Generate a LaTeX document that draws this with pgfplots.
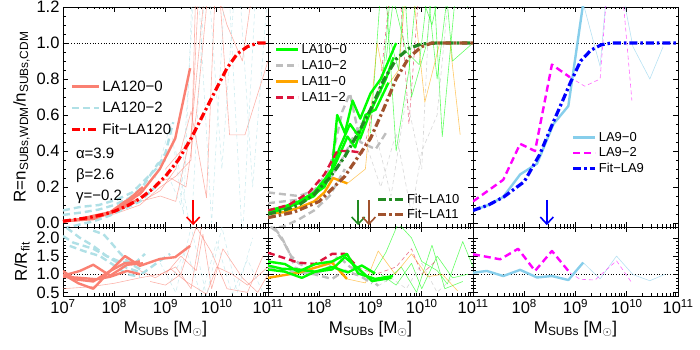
\documentclass[border=0pt]{standalone}
\usepackage{fontspec}
\setmainfont{Liberation Sans}
\usepackage{pgfplots}
\pgfplotsset{compat=1.18}
\usetikzlibrary{arrows.meta}

\definecolor{salmonc}{RGB}{250,128,114}
\definecolor{powderc}{RGB}{176,224,230}
\definecolor{fitred}{RGB}{255,0,0}
\definecolor{limec}{RGB}{0,255,0}
\definecolor{grayc}{RGB}{190,190,190}
\definecolor{orangec}{RGB}{255,165,0}
\definecolor{crimsonc}{RGB}{220,20,60}
\definecolor{forestc}{RGB}{34,139,34}
\definecolor{siennac}{RGB}{160,82,45}
\definecolor{skyc}{RGB}{135,206,235}
\definecolor{magc}{RGB}{255,0,255}
\definecolor{bluec}{RGB}{0,0,255}

\newcommand\tickfont{\fontsize{16.5}{19}\selectfont}

\tikzset{
  thk/.style={line width=2.4pt, line join=round},
  thn/.style={line width=0.6pt, opacity=0.6, line join=round},
  dsh/.style={dash pattern=on 7pt off 4pt},
  tdsh/.style={dash pattern=on 4pt off 3pt},
  fitl/.style={line width=3.2pt, dash pattern=on 8pt off 3pt on 2.5pt off 3pt},
  arr/.style={line width=1.6pt, -{Straight Barb[length=7pt,width=13pt]}}
}

\pgfplotsset{
  base/.style={scale only axis, width=205pt, xmin=7, xmax=11,
    xtick={7,8,9,10,11},
    minor xtick={7.301,7.477,7.602,7.699,7.778,7.845,7.903,7.954,
                 8.301,8.477,8.602,8.699,8.778,8.845,8.903,8.954,
                 9.301,9.477,9.602,9.699,9.778,9.845,9.903,9.954,
                 10.301,10.477,10.602,10.699,10.778,10.845,10.903,10.954},
    major tick length=5pt, minor tick length=2.5pt,
    tick style={black, line width=0.6pt},
    axis line style={black, line width=0.9pt},
    tick label style={font=\tickfont},
    label style={font=\fontsize{17}{20}\selectfont},
    /pgf/number format/assume math mode=true,
    yticklabel style={/pgf/number format/fixed, /pgf/number format/fixed zerofill, /pgf/number format/precision=1},
    legend cell align=left,
  },
  top/.style={base, height=220pt, ymin=-0.022, ymax=1.2,
    ytick={0,0.2,0.4,0.6,0.8,1.0,1.2}, minor y tick num=3, xticklabels={}},
  bot/.style={base, height=69pt, ymin=0.4, ymax=2.3,
    ytick={0.5,1.0,1.5,2.0}, minor y tick num=4,
    xlabel={M\textsubscript{SUBs} [M\textsubscript{$\odot$}]}},
}

\begin{document}
\begin{tikzpicture}
\useasboundingbox (0,0) rectangle (700pt,350pt);

% ================= Panel 1 top =================
\begin{axis}[top, at={(63pt,123pt)}, anchor=south west,
  ylabel={R=n\textsubscript{SUBs,WDM}/n\textsubscript{SUBs,CDM}},
  legend style={draw=none, fill=none, inner sep=0pt, row sep=5.5pt,
    at={(axis description cs:0.034,0.675)}, anchor=north west,
    font=\fontsize{15}{17}\selectfont, nodes={inner sep=2pt}},
  legend image code/.code={\draw[#1] (0pt,0pt) -- (27pt,0pt);}]
\addlegendimage{salmonc, thk}\addlegendentry{LA120−0}
\addlegendimage{powderc, thk, dsh}\addlegendentry{LA120−2}
\addlegendimage{fitred, fitl}\addlegendentry{Fit−LA120}
\addplot[black, dotted, line width=0.7pt, forget plot] coordinates {(7,1)(11,1)};
% thin continuations
\addplot[salmonc, thn, forget plot] coordinates {(8.6,0.13)(8.9,0.18)(9.2,0.30)(9.5,0.62)(9.8,0.14)(10.0,1.5)(10.25,0.49)(10.55,0.49)(11,0.9)};
\addplot[salmonc, thn, forget plot] coordinates {(8.8,0.22)(9.1,0.25)(9.4,0.2)(9.6,0.6)(9.9,1.5)(10.1,1.3)(10.4,1.8)};
\addplot[salmonc, thn, forget plot] coordinates {(9.0,0.3)(9.3,0.4)(9.5,0.45)(9.7,1.6)(10.2,1.1)(10.5,0.9)(10.8,1.5)};
\addplot[salmonc, thn, forget plot] coordinates {(8.5,0.12)(8.9,0.15)(9.2,0.12)(9.5,0.5)(9.8,1.4)};
\addplot[salmonc, thn, forget plot] coordinates {(7.0,0.005)(7.5,0.02)(8.0,0.05)(8.5,0.1)(8.9,0.2)(9.2,0.26)(9.5,0.35)(9.6,1.4)};
\addplot[powderc, thn, tdsh, forget plot] coordinates {(9.0,0.3)(9.3,0.1)(9.6,1.5)(9.9,0.0)(10.2,1.5)(10.5,-0.1)(10.8,1.5)};
\addplot[powderc, thn, tdsh, forget plot] coordinates {(9.2,0.4)(9.5,-0.05)(9.8,1.5)(10.1,0.3)(10.4,1.5)(10.7,0.2)(11,1.3)};
\addplot[powderc, thn, tdsh, forget plot] coordinates {(8.8,0.25)(9.1,0.55)(9.35,0.05)(9.55,1.5)};
% thick
\addplot[powderc, thk, dsh, forget plot] coordinates {(7.0,0.07)(7.35,0.09)(7.7,0.1)(8.05,0.13)(8.35,0.17)(8.6,0.24)(8.85,0.31)(9.0,0.39)(9.15,0.56)};
\addplot[powderc, thk, dsh, forget plot] coordinates {(7.0,0.045)(7.4,0.06)(7.7,0.075)(8.0,0.1)(8.3,0.14)(8.55,0.2)(8.85,0.33)(9.0,0.35)};
\addplot[powderc, thk, dsh, forget plot] coordinates {(7.0,-0.03)(7.3,-0.01)(7.6,0.01)(7.9,0.04)(8.2,0.08)(8.5,0.12)(8.8,0.2)};
\addplot[salmonc, thk, forget plot] coordinates {(7.0,0.011)(7.23,0.015)(7.6,0.032)(7.92,0.06)(8.21,0.12)(8.5,0.16)(8.89,0.30)(9.19,0.47)(9.48,0.86)};
\addplot[salmonc, thk, forget plot] coordinates {(7.0,0.01)(7.3,0.016)(7.59,0.022)(7.8,0.045)(8.0,0.068)(8.3,0.135)(8.56,0.2)};
\addplot[salmonc, thk, forget plot] coordinates {(7.0,0.01)(7.33,0.022)(7.59,0.04)(7.92,0.06)(8.25,0.11)(8.56,0.18)};
\addplot[salmonc, thk, forget plot] coordinates {(7.0,0.009)(7.33,0.018)(7.66,0.035)(7.92,0.055)(8.2,0.09)(8.45,0.13)};
\addplot[fitred, fitl, forget plot] coordinates {(7.0,0.01)(7.25,0.02)(7.5,0.03)(7.75,0.045)(8.0,0.065)(8.25,0.095)(8.5,0.135)(8.75,0.19)(9.0,0.26)(9.25,0.35)(9.5,0.47)(9.75,0.61)(10.0,0.75)(10.2,0.86)(10.4,0.94)(10.6,0.98)(10.8,1.0)(11.0,1.0)};
\draw[fitred, arr] (axis cs:9.54,0.128) -- (axis cs:9.54,-0.012);
\node[anchor=north west, align=left, font=\fontsize{15}{21}\selectfont, inner sep=0pt] at (axis cs:7.25,0.417) {α=3.9\\β=2.6\\γ=−0.2};
\end{axis}

% ================= Panel 1 bottom =================
\begin{axis}[bot, at={(63pt,54pt)}, anchor=south west,
  ylabel={R/R\textsubscript{fit}},
  xticklabels={10\textsuperscript{7},10\textsuperscript{8},10\textsuperscript{9},10\textsuperscript{10},10\textsuperscript{11}}]
\addplot[black, dotted, line width=0.7pt] coordinates {(7,1)(11,1)};
\addplot[salmonc, thn] coordinates {(7.0,0.6)(7.5,0.65)(8.0,0.75)(8.5,0.9)(8.9,1.0)(9.2,1.2)(9.5,0.6)(9.7,2.3)};
\addplot[salmonc, thn] coordinates {(8.7,0.8)(9.0,0.7)(9.3,1.0)(9.6,2.3)(9.9,1.6)(10.2,0.6)(10.6,0.5)(10.9,1.5)};
\addplot[salmonc, thn] coordinates {(9.0,1.0)(9.3,1.5)(9.6,1.1)(9.73,2.1)(9.9,0.6)(10.12,1.7)(10.5,0.9)(10.8,0.5)(11,1.0)};
\addplot[salmonc, thn] coordinates {(8.5,1.1)(8.8,0.9)(9.1,1.15)(9.4,0.8)(9.8,0.45)(10.0,1.2)(10.3,1.0)(10.6,0.7)(11,1.2)};
\addplot[powderc, thn, tdsh] coordinates {(8.9,1.3)(9.2,0.5)(9.5,2.3)(9.8,0.4)(10.1,2.3)(10.4,0.5)(10.7,2.0)};
\addplot[powderc, thn, tdsh] coordinates {(9.1,0.8)(9.4,1.7)(9.7,0.4)(10.0,1.9)(10.3,0.45)(10.6,1.4)(10.9,0.5)};
\addplot[powderc, thk, dsh] coordinates {(7.07,2.28)(7.33,2.0)(7.59,1.78)(7.85,1.5)(8.2,1.2)(8.56,1.03)(8.89,1.37)(9.09,1.56)};
\addplot[powderc, thk, dsh] coordinates {(7.0,2.05)(7.2,1.87)(7.59,1.7)(7.85,1.5)(8.1,1.35)(8.4,1.3)(8.6,1.56)};
\addplot[powderc, thk, dsh] coordinates {(7.13,1.78)(7.4,1.64)(7.72,1.5)(7.98,1.26)(8.25,1.0)(8.5,0.93)};
\addplot[powderc, thk, dsh] coordinates {(7.59,2.2)(7.79,2.1)(7.92,1.9)(8.1,1.6)(8.3,1.3)(8.55,1.1)};
\addplot[salmonc, thk] coordinates {(7.0,1.09)(7.23,0.86)(7.59,0.8)(7.92,1.09)(8.21,1.5)(8.5,1.23)(8.89,1.42)(9.19,1.47)(9.48,1.78)};
\addplot[salmonc, thk] coordinates {(7.0,1.0)(7.3,0.75)(7.59,0.6)(7.92,1.09)(8.2,1.3)(8.5,1.35)};
\addplot[salmonc, thk] coordinates {(7.0,0.96)(7.33,1.09)(7.59,1.26)(7.92,0.96)(8.25,1.26)(8.56,1.3)};
\addplot[salmonc, thk] coordinates {(7.0,0.93)(7.33,0.9)(7.66,0.86)(7.92,0.93)(8.25,1.09)(8.5,1.0)};
\end{axis}

% ================= Panel 2 top =================
\begin{axis}[top, at={(268pt,123pt)}, anchor=south west, yticklabels={},
  legend style={draw=none, fill=none, inner sep=0pt, row sep=1.3pt,
    at={(axis description cs:0.034,0.84)}, anchor=north west,
    font=\fontsize{13}{15}\selectfont, nodes={inner sep=2pt}},
  legend image code/.code={\draw[#1] (0pt,0pt) -- (22pt,0pt);}]
\addlegendimage{limec, thk}\addlegendentry{LA10−0}
\addlegendimage{grayc, thk, dsh}\addlegendentry{LA10−2}
\addlegendimage{orangec, thk}\addlegendentry{LA11−0}
\addlegendimage{crimsonc, thk, dsh}\addlegendentry{LA11−2}
\addplot[black, dotted, line width=0.7pt, forget plot] coordinates {(7,1)(11,1)};
% thin
\addplot[limec, thn, forget plot] coordinates {(9.0,0.5)(9.25,1.5)(9.5,0.4)(9.75,0.85)(10.0,1.6)(10.3,0.8)(10.6,1.5)(10.9,1.2)};
\addplot[limec, thn, forget plot] coordinates {(9.2,0.7)(9.4,1.3)(9.7,0.95)(9.95,0.88)(10.2,1.5)(10.4,0.48)(10.7,1.4)};
\addplot[limec, thn, forget plot] coordinates {(9.3,0.9)(9.6,1.6)(9.8,0.7)(10.1,1.0)(10.35,1.7)(10.6,0.9)(11,1.0)};
\addplot[limec, thn, forget plot] coordinates {(9.4,1.0)(9.55,0.85)(9.7,1.5)(10.2,1.1)(10.5,1.5)};
\addplot[grayc, thn, tdsh, forget plot] coordinates {(8.9,0.45)(9.2,0.2)(9.5,0.5)(9.8,0.05)(10.0,0.4)(10.3,0.6)(10.6,1.5)};
\addplot[grayc, thn, tdsh, forget plot] coordinates {(9.1,0.5)(9.4,0.15)(9.7,0.7)(10.0,0.3)(10.2,1.5)};
\addplot[orangec, thn, forget plot] coordinates {(8.55,0.22)(8.9,0.3)(9.13,1.0)(9.3,0.75)(9.55,0.85)(9.75,1.5)(10.06,0.67)(10.35,1.0)(10.55,1.0)(10.75,0.49)};
\addplot[crimsonc, thn, tdsh, forget plot] coordinates {(8.85,0.39)(9.2,0.8)(9.5,1.6)(9.75,0.55)(10.0,1.5)};
% thick
\addplot[grayc, thk, dsh, forget plot] coordinates {(7.0,0.17)(7.3,0.16)(7.6,0.15)(7.9,0.18)(8.2,0.3)(8.45,0.62)(8.6,0.72)(8.8,0.45)(9.1,0.41)(9.3,0.5)};
\addplot[grayc, thk, dsh, forget plot] coordinates {(7.0,0.11)(7.3,0.12)(7.6,0.13)(7.9,0.16)(8.2,0.24)(8.5,0.38)(8.7,0.5)(8.9,0.58)};
\addplot[grayc, thk, dsh, forget plot] coordinates {(7.0,-0.03)(7.3,-0.02)(7.6,0.02)(7.9,0.07)(8.2,0.15)(8.5,0.3)};
\addplot[orangec, thk, forget plot] coordinates {(7.0,0.05)(7.3,0.06)(7.6,0.085)(7.9,0.12)(8.1,0.17)(8.27,0.25)(8.55,0.22)};
\addplot[limec, thk, forget plot] coordinates {(7.0,0.07)(7.3,0.09)(7.6,0.12)(7.9,0.17)(8.1,0.24)(8.25,0.3)(8.35,0.6)(8.5,0.5)(8.65,0.68)(8.8,0.58)(9.0,0.72)(9.2,0.8)(9.5,1.0)};
\addplot[limec, thk, forget plot] coordinates {(7.0,0.05)(7.3,0.08)(7.6,0.11)(7.9,0.15)(8.2,0.26)(8.4,0.42)(8.6,0.55)(8.8,0.47)(9.0,0.62)(9.3,0.8)(9.45,0.92)};
\addplot[limec, thk, forget plot] coordinates {(7.0,0.06)(7.4,0.09)(7.8,0.14)(8.1,0.2)(8.35,0.35)(8.55,0.48)(8.7,0.42)(8.9,0.6)(9.1,0.63)(9.35,0.78)};
\addplot[crimsonc, thk, dsh, forget plot] coordinates {(7.0,0.07)(7.4,0.1)(7.8,0.17)(8.1,0.27)(8.35,0.4)(8.6,0.4)(8.85,0.39)};
\draw[forestc, arr] (axis cs:8.76,0.128) -- (axis cs:8.76,-0.012);
\draw[siennac, arr] (axis cs:8.97,0.128) -- (axis cs:8.97,-0.012);
\end{axis}
% overlay for fits (second legend)
\begin{axis}[top, at={(268pt,123pt)}, anchor=south west, hide axis,
  legend style={draw=none, fill=none, inner sep=0pt, row sep=0pt,
    at={(axis description cs:0.53,0.16)}, anchor=north west,
    font=\fontsize{13}{15}\selectfont, nodes={inner sep=2pt}},
  legend image code/.code={\draw[#1] (0pt,0pt) -- (25pt,0pt);}]
\addplot[forestc, fitl] coordinates {(7.0,0.05)(7.3,0.07)(7.6,0.1)(7.9,0.16)(8.2,0.25)(8.5,0.37)(8.8,0.52)(9.0,0.63)(9.25,0.79)(9.5,0.91)(9.75,0.97)(10.0,0.995)(10.3,1.0)(11,1.0)};
\addlegendentry{Fit−LA10}
\addplot[siennac, fitl] coordinates {(7.0,0.03)(7.5,0.06)(8.0,0.12)(8.5,0.26)(9.0,0.47)(9.25,0.63)(9.5,0.8)(9.75,0.92)(10.0,0.98)(10.2,1.0)(11,1.0)};
\addlegendentry{Fit−LA11}
\end{axis}

% ================= Panel 2 bottom =================
\begin{axis}[bot, at={(268pt,54pt)}, anchor=south west, yticklabels={},
  xticklabels={,10\textsuperscript{8},10\textsuperscript{9},10\textsuperscript{10},10\textsuperscript{11}}]
\addplot[black, dotted, line width=0.7pt] coordinates {(7,1)(11,1)};
\addplot[limec, thn] coordinates {(9.0,0.9)(9.3,1.6)(9.54,2.4)(9.8,2.0)(10.0,1.35)(10.3,1.1)(10.5,0.73)(10.8,1.9)(11,1.2)};
\addplot[limec, thn] coordinates {(9.2,1.0)(9.5,0.7)(9.8,1.3)(10.0,0.6)(10.3,1.5)(10.6,0.9)(10.9,1.0)};
\addplot[limec, thn] coordinates {(9.3,0.8)(9.6,1.2)(9.9,0.5)(10.2,1.8)(10.45,0.6)(10.8,0.8)};
\addplot[orangec, thn] coordinates {(8.54,0.87)(8.9,0.76)(9.15,1.64)(9.48,1.0)(9.8,1.56)(10.12,0.93)(10.4,1.0)(10.7,0.54)};
\addplot[crimsonc, thn, tdsh] coordinates {(8.76,1.18)(9.1,1.0)(9.5,1.2)(9.8,1.7)(10.0,1.0)(10.3,1.4)};
\addplot[grayc, thn, tdsh] coordinates {(9.15,0.68)(9.4,0.9)(9.7,0.6)(10.0,1.3)(10.3,0.5)(10.6,0.9)};
\addplot[grayc, thk, dsh] coordinates {(7.13,2.27)(7.27,2.0)(7.4,1.64)(7.53,1.18)(7.75,1.05)(7.92,1.0)(8.2,1.2)(8.37,1.5)(8.6,1.2)(8.9,1.0)(9.15,0.68)};
\addplot[grayc, thk, dsh] coordinates {(7.0,1.2)(7.3,1.1)(7.6,1.05)(7.9,1.0)(8.25,0.87)(8.5,1.1)(8.8,0.95)(9.03,0.75)};
\addplot[grayc, thk, dsh] coordinates {(7.05,2.3)(7.15,2.2)(7.3,1.9)(7.45,1.5)(7.6,1.3)(7.8,1.15)};
\addplot[crimsonc, thk, dsh] coordinates {(7.0,1.59)(7.2,1.5)(7.59,1.32)(7.92,1.28)(8.25,1.56)(8.5,1.56)(8.76,1.18)};
\addplot[orangec, thk] coordinates {(7.0,0.9)(7.59,1.04)(7.92,1.18)(8.25,1.32)(8.54,0.87)};
\addplot[limec, thk] coordinates {(7.0,1.35)(7.33,1.28)(7.59,1.07)(7.92,1.28)(8.25,1.35)(8.54,1.56)(8.76,1.02)(9.09,0.87)(9.44,0.95)};
\addplot[limec, thk] coordinates {(7.0,1.13)(7.33,1.07)(7.66,0.9)(7.92,1.07)(8.25,1.13)(8.5,1.47)(8.83,1.07)(9.03,0.81)(9.41,0.9)};
\addplot[limec, thk] coordinates {(7.0,1.24)(7.27,1.15)(7.59,1.13)(7.92,1.07)(8.25,1.2)(8.56,1.05)(8.83,1.24)(9.09,1.02)};
\end{axis}

% ================= Panel 3 top =================
\begin{axis}[top, at={(473pt,123pt)}, anchor=south west, yticklabels={},
  legend style={draw=none, fill=none, inner sep=0pt, row sep=0.7pt,
    at={(axis description cs:0.48,0.44)}, anchor=north west,
    font=\fontsize{13}{15}\selectfont, nodes={inner sep=2pt}},
  legend image code/.code={\draw[#1] (0pt,0pt) -- (22pt,0pt);}]
\addlegendimage{skyc, thk}\addlegendentry{LA9−0}
\addlegendimage{magc, thk, dsh}\addlegendentry{LA9−2}
\addlegendimage{bluec, fitl}\addlegendentry{Fit−LA9}
\addplot[black, dotted, line width=0.7pt, forget plot] coordinates {(7,1)(11,1)};
\addplot[skyc, thn, forget plot] coordinates {(9.15,1.22)(9.48,0.87)(9.7,1.6)(10.12,0.98)(10.45,0.8)(10.71,0.98)};
\addplot[magc, thn, tdsh, forget plot] coordinates {(8.89,0.81)(9.18,0.76)(9.48,0.8)(9.67,1.5)(9.85,1.5)(10.1,0.68)};
\addplot[magc, thk, dsh, forget plot] coordinates {(7.0,0.12)(7.59,0.24)(7.92,0.44)(8.21,0.4)(8.54,0.88)(8.89,0.81)};
\addplot[skyc, thk, forget plot] coordinates {(7.0,0.07)(7.3,0.1)(7.59,0.145)(7.92,0.27)(8.25,0.33)(8.57,0.55)(8.86,0.65)(9.15,1.22)};
\addplot[bluec, fitl, forget plot] coordinates {(7.0,0.07)(7.3,0.1)(7.6,0.145)(8.0,0.23)(8.3,0.38)(8.55,0.55)(8.75,0.68)(8.9,0.78)(9.1,0.9)(9.3,0.96)(9.5,0.99)(9.7,1.0)(11,1.0)};
\draw[bluec, arr] (axis cs:8.44,0.128) -- (axis cs:8.44,-0.012);
\end{axis}

% ================= Panel 3 bottom =================
\begin{axis}[bot, at={(473pt,54pt)}, anchor=south west, yticklabels={},
  xticklabels={,10\textsuperscript{8},10\textsuperscript{9},10\textsuperscript{10},10\textsuperscript{11}}]
\addplot[black, dotted, line width=0.7pt] coordinates {(7,1)(11,1)};
\addplot[skyc, thn] coordinates {(9.15,1.32)(9.48,0.87)(9.8,1.5)(10.12,0.99)(10.45,0.82)(10.75,1.0)};
\addplot[magc, thn, tdsh] coordinates {(8.89,1.04)(9.09,0.86)(9.38,0.84)(9.8,1.37)(10.1,0.76)};
\addplot[magc, thk, dsh] coordinates {(7.0,1.55)(7.53,1.41)(7.88,1.7)(8.21,1.09)(8.54,1.64)(8.89,1.04)};
\addplot[skyc, thk] coordinates {(7.0,1.04)(7.27,1.09)(7.59,0.95)(7.92,1.12)(8.25,0.91)(8.54,0.95)(8.86,0.84)(9.15,1.32)};
\end{axis}
\end{tikzpicture}
\end{document}
